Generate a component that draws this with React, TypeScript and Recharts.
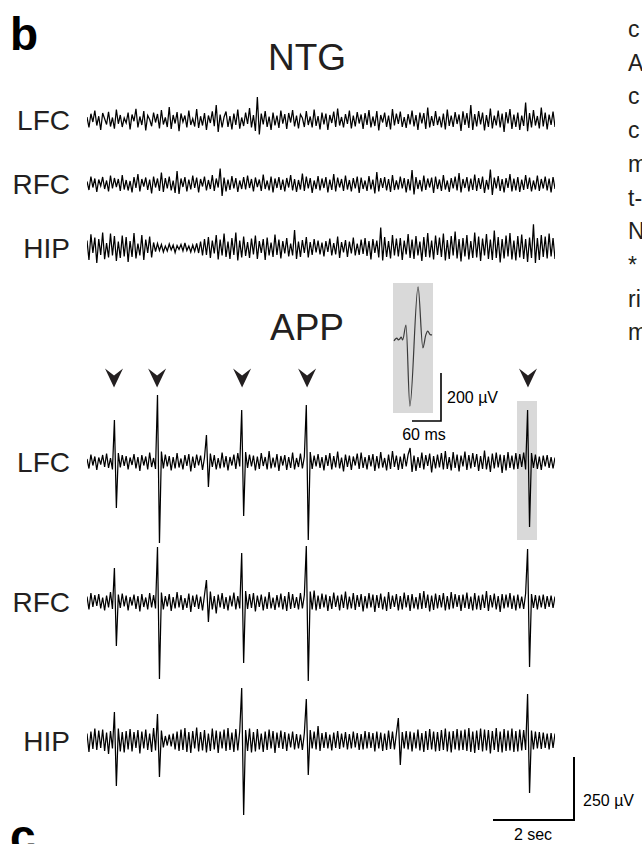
import React from "react";
import { LineChart, Line, XAxis, YAxis, ReferenceArea, ReferenceDot } from "recharts";

// sampling grid of the traces (seconds per sample, 240 samples)
const STEP = 0.05;
const SPAN = 11.95;

// NTG traces, µV
const ntgLfc = [
  12, -30, 25, -8, 38, -22, 15, -40, 28, 5, -18, 33, -26, 10, -35, 42, -15, 20, -28, 8,
  -12, 30, -38, 22, -5, 45, -30, 14, -20, 36, -42, 18, 2, -25, 30, -10, 24, -34, 40, -18,
  10, -28, 52, -36, 20, -14, 32, -45, 26, -8, 18, -30, 38, -20, 6, -26, 44, -32, 15, -22,
  28, -40, 18, -12, 35, -25, 60, -48, 22, -30, 12, 34, -28, 16, -38, 26, -20, 42, -35, 10,
  -24, 30, -16, 48, -30, 20, -44, 92, -58, 26, -18, 36, -28, 14, -40, 30, -22, 18, -32, 38,
  -15, 24, -36, 28, -10, 40, -26, 18, -34, 22, 8, -28, 36, -20, 14, -30, 42, -24, 16, -38,
  30, -18, 26, -40, 20, -12, 34, -28, 46, -22, 12, -30, 24, -16, 38, -34, 18, -26, 32, -14,
  22, -36, 28, -20, 40, -30, 14, -24, 36, -42, 20, -10, 30, -28, 18, -38, 44, -22, 26, -16,
  34, -28, 12, -32, 24, -18, 38, -26, 20, -40, 30, -14, 28, -36, 50, -30, 16, -24, 36, -20,
  14, -30, 26, -38, 42, -24, 18, -28, 32, -16, 22, -44, 35, -20, 28, -32, 60, -40, 24, -26,
  36, -18, 30, -42, 20, -28, 46, -34, 18, -22, 38, -30, 26, -48, 32, -14, 44, -36, 22, -28,
  30, -40, 18, -24, 70, -45, 28, -30, 40, -22, 16, -34, 50, -26, 30, -38, 22, -20, 34, -28,
];
const ntgRfc = [
  10, -24, 30, -14, 22, -32, 18, -8, 28, -20, 14, -30, 34, -18, 24, -12, 20, -28, 36, -22,
  16, -26, 12, -34, 28, -16, 40, -30, 20, -10, 26, -24, 18, -38, 30, -14, 22, -28, 46, -32,
  24, -18, 30, -26, 14, -36, 52, -40, 22, -12, 28, -30, 18, -22, 34, -16, 26, -34, 20, -10,
  30, -26, 16, -20, 36, -28, 22, -14, 62, -48, 26, -30, 18, -24, 32, -18, 24, -32, 14, -20,
  28, -22, 34, -16, 20, -30, 26, -12, 18, -28, 38, -20, 14, -26, 30, -34, 22, -16, 28, -24,
  18, -30, 24, -14, 36, -26, 20, -32, 16, -22, 42, -28, 30, -18, 24, -36, 14, -20, 32, -26,
  22, -16, 28, -34, 18, -24, 40, -30, 26, -14, 20, -28, 34, -22, 16, -30, 24, -18, 30, -36,
  26, -20, 14, -28, 32, -22, 18, -38, 48, -30, 24, -16, 28, -26, 20, -32, 36, -24, 14, -22,
  30, -18, 24, -34, 20, -26, 56, -42, 28, -20, 16, -30, 34, -24, 22, -14, 26, -36, 30, -20,
  18, -28, 36, -22, 14, -32, 24, -18, 30, -26, 44, -34, 20, -16, 28, -30, 22, -24, 38, -28,
  24, -20, 30, -36, 16, -22, 58, -44, 26, -18, 32, -28, 20, -34, 24, -16, 40, -30, 22, -26,
  28, -32, 18, -24, 36, -20, 26, -30, 14, -22, 34, -28, 20, -18, 30, -26, 22, -34, 28, -20,
];
const ntgHip = [
  30, -48, 55, -20, 42, -60, 36, -28, 62, -45, 20, -38, 58, -30, 48, -52, 26, -40, 50, -34,
  44, -56, 28, -36, 60, -42, 18, -30, 52, -48, 34, -20, 46, -38, 22, -14, 18, -10, 14, -16,
  8, -12, 16, -8, 12, -18, 10, -6, 14, -12, 20, -10, 8, -16, 12, -14, 18, -20, 26, -30,
  36, -28, 44, -40, 30, -22, 52, -46, 34, -30, 58, -36, 26, -44, 40, -28, 62, -50, 30, -38,
  46, -32, 24, -40, 38, -26, 50, -44, 28, -20, 36, -48, 42, -30, 22, -36, 54, -28, 34, -42,
  28, -22, 40, -34, 18, -30, 72, -44, 26, -36, 32, -20, 44, -38, 24, -28, 36, -18, 30, -26,
  22, -34, 28, -16, 38, -30, 20, -26, 46, -40, 24, -18, 32, -36, 26, -22, 42, -30, 18, -28,
  34, -24, 40, -32, 28, -46, 36, -20, 30, -38, 82, -50, 44, -36, 28, -42, 52, -30, 38, -34,
  40, -48, 30, -26, 56, -40, 34, -44, 48, -30, 26, -52, 44, -36, 60, -38, 30, -46, 50, -28,
  42, -36, 58, -50, 32, -44, 48, -30, 66, -42, 36, -54, 40, -34, 52, -46, 28, -40, 62, -38,
  46, -52, 38, -30, 56, -44, 34, -48, 70, -40, 44, -58, 36, -42, 50, -34, 60, -46, 30, -50,
  48, -38, 54, -44, 36, -56, 42, -40, 95, -60, 40, -48, 52, -36, 46, -42, 58, -34, 40, -44,
];

// APP traces, µV
const appLfc = [
  12, -26, 30, -14, 22, -32, 18, -10, 28, -20, 34, -24, 16, -30, 168, -184, 36, -22, 28, -16,
  24, -30, 18, -12, 32, -26, 20, -36, 28, -14, 22, -30, 38, -20, 16, -28, 268, -324, 42, -26,
  30, -18, 24, -34, 20, -26, 36, -22, 14, -30, 28, -16, 32, -38, 22, -24, 30, -14, 26, -32,
  18, 108, -100, 34, -20, 28, -30, 16, -26, 38, -22, 24, -34, 20, -14, 30, -28, 36, -18, 208,
  -216, 40, -24, 30, -18, 26, -34, 22, -28, 36, -16, 20, -30, 44, -26, 18, -22, 32, -36, 24,
  -14, 28, -32, 20, -24, 38, -30, 16, -20, 34, -26, 22, 228, -312, 40, -28, 26, -18, 32, -24,
  20, -34, 28, -16, 36, -30, 24, -22, 42, -26, 18, -38, 30, -20, 26, -32, 22, -14, 34, -28,
  38, -24, 20, -30, 28, -18, 32, -36, 24, -26, 40, -22, 16, -34, 30, -28, 44, -20, 26, -32,
  22, -28, 34, -18, 30, 56, -40, 26, -36, 20, -24, 38, -30, 28, -16, 34, -42, 24, -26, 30,
  -22, 36, -30, 44, -28, 20, -34, 40, -24, 30, -38, 26, -18, 42, -32, 28, -26, 36, -20, 32,
  -36, 24, -28, 46, -30, 22, -40, 34, -26, 38, -22, 30, -44, 28, -34, 40, -24, 26, -30, 36,
  -28, 32, -20, 38, -30, 208, -260, 36, -24, 30, -28, 22, -32, 26, -18, 28, -24, 20, -26, 18,
];
const appRfc = [
  22, -30, 36, -20, 28, -16, 32, -26, 18, -34, 26, -22, 40, -28, 136, -176, 30, -24, 34, -18,
  26, -34, 20, -14, 30, -28, 24, -38, 32, -20, 18, -30, 36, -22, 28, -26, 220, -308, 38, -30,
  24, -18, 32, -36, 20, -26, 40, -22, 28, -32, 16, -24, 34, -40, 26, -20, 30, -28, 22, -34,
  28, 88, -80, 42, -30, 24, -46, 30, -22, 36, -28, 20, -34, 26, -18, 38, -30, 24, -26, 196,
  -244, 44, -28, 32, -24, 36, -38, 26, -20, 30, -34, 22, -28, 40, -26, 18, -32, 28, -22, 34,
  -30, 24, -36, 40, -28, 32, -24, 20, -30, 36, -26, 28, 224, -316, 42, -30, 46, -34, 26, -28,
  34, -22, 30, -36, 24, -28, 38, -20, 26, -34, 30, -24, 42, -30, 22, -26, 36, -32, 28, -20,
  32, -38, 24, -26, 36, -22, 30, -40, 28, -24, 34, -30, 22, -36, 40, -28, 26, -20, 32, -34,
  24, -30, 38, -22, 28, -36, 32, -26, 20, -30, 36, -28, 44, -24, 30, -38, 26, -32, 34, -26,
  28, -22, 36, -34, 24, -30, 40, -26, 32, -20, 28, -36, 30, -24, 38, -28, 22, -34, 36, -30,
  26, -32, 30, -24, 44, -36, 28, -22, 34, -30, 24, -40, 32, -26, 30, -22, 36, -28, 26, -34,
  30, -26, 22, -28, 34, 212, -260, 32, -24, 28, -30, 26, -22, 30, -28, 24, -20, 26, -24, 22,
];
const appHip = [
  30, -44, 38, -32, 50, -36, 42, -28, 46, -40, 34, -52, 40, -30, 116, -180, 50, -42, 36, -46,
  40, -34, 48, -42, 36, -28, 44, -50, 38, -30, 46, -36, 30, -44, 52, -38, 108, -144, 42, -26,
  20, -18, 26, -22, 30, -34, 38, -40, 46, -36, 52, -44, 36, -48, 40, -30, 54, -42, 36, -38,
  44, -46, 30, -40, 50, -34, 42, -48, 38, -30, 46, -40, 52, -36, 34, -44, 48, -38, 40, 212,
  -296, 44, -40, 50, -46, 36, -42, 48, -34, 30, -44, 38, -36, 46, -30, 40, -48, 34, -28, 42,
  -32, 36, -40, 30, -26, 38, -34, 28, -30, 26, -36, 32, 168, -136, 44, -30, 38, -34, 60, -40,
  32, -28, 36, -30, 26, -38, 34, -28, 40, -32, 30, -26, 36, -34, 28, -30, 38, -26, 32, -36,
  28, -34, 40, -30, 36, -28, 32, -42, 38, -30, 34, -40, 30, -36, 42, -32, 38, -34, 30, 92,
  -96, 36, -30, 40, -34, 38, -42, 34, -30, 46, -38, 32, -44, 40, -36, 48, -34, 38, -42, 36,
  -40, 44, -36, 50, -42, 38, -46, 40, -34, 48, -38, 42, -36, 46, -40, 52, -44, 38, -48, 42,
  -36, 50, -42, 46, -38, 44, -50, 40, -36, 52, -44, 38, -46, 48, -40, 42, -38, 50, -44, 40,
  -42, 46, -38, 44, -36, 188, -208, 42, -34, 38, -30, 36, -32, 34, -28, 30, -34, 32, -28, 30,
];

// arrowheads over the LFC spikes (s)
const arrowTimes = [0.69, 1.79, 3.96, 5.62, 11.26];

// averaged spike shown in the inset
const insetMs = [2, 5, 8, 11, 14, 17, 20, 27, 35, 52, 62, 68, 72, 77, 81];
const insetUv = [-4, 4, 8, 0, 4, 12, 0, 62, -275, 221, -33, 20, 37, 22, 21];

const rightText = ["c", "A", "c", "c", "m", "t-", "N", "*", "ri", "m"];

const FONT = "'Liberation Sans', Arial, sans-serif";
const INK = "#231f20";
const BOX = "#d9d9d9";

const toSeries = (values: number[]) => values.map((v, i) => ({ t: +(i * STEP).toFixed(2), v }));
const insetData = insetMs.map((t, i) => ({ t, v: insetUv[i] }));

const Arrow = (props: any) => {
  const { cx, cy } = props;
  return (
    <path
      d={`M${cx - 9},${cy - 9.5} L${cx},${cy - 2.5} L${cx + 9},${cy - 9.5} L${cx},${cy + 9.5} Z`}
      fill={INK}
    />
  );
};

function Trace({ values, center, children }: { values: number[]; center: number; children?: React.ReactNode }) {
  return (
    <div style={{ position: "absolute", left: 87, top: center - 100 }}>
      <LineChart width={468} height={200} data={toSeries(values)} margin={{ top: 0, right: 0, bottom: 0, left: 0 }}>
        <XAxis dataKey="t" type="number" domain={[0, SPAN]} hide />
        <YAxis type="number" domain={[-400, 400]} hide allowDataOverflow />
        {children}
        <Line type="linear" dataKey="v" stroke="#000" strokeWidth={1.25} dot={false} isAnimationActive={false} />
      </LineChart>
    </div>
  );
}

export default function App() {
  const labels = [
    { text: "LFC", y: 120 },
    { text: "RFC", y: 184 },
    { text: "HIP", y: 248 },
    { text: "LFC", y: 462 },
    { text: "RFC", y: 602 },
    { text: "HIP", y: 741 },
  ];
  return (
    <div style={{ position: "absolute", left: 0, top: 0, width: 642, height: 844, overflow: "hidden", background: "#fff" }}>
      <Trace values={ntgLfc} center={120} />
      <Trace values={ntgRfc} center={184} />
      <Trace values={ntgHip} center={248} />

      <Trace values={appLfc} center={462}>
        <ReferenceArea x1={10.98} x2={11.49} y1={-312} y2={244} fill={BOX} fillOpacity={1} stroke="none" />
        {arrowTimes.map((t) => (
          <ReferenceDot key={t} x={t} y={336} r={9} shape={Arrow} ifOverflow="visible" />
        ))}
      </Trace>
      <Trace values={appRfc} center={602} />
      <Trace values={appHip} center={741} />

      <div style={{ position: "absolute", left: 393, top: 283, width: 40, height: 130, background: BOX }}>
        <LineChart width={40} height={130} data={insetData} margin={{ top: 0, right: 0, bottom: 0, left: 0 }}>
          <XAxis dataKey="t" type="number" domain={[0, 83]} hide />
          <YAxis type="number" domain={[-304, 237]} hide />
          <Line type="monotone" dataKey="v" stroke="#3a3a3a" strokeWidth={1.2} dot={false} isAnimationActive={false} />
        </LineChart>
      </div>

      <svg width={642} height={844} style={{ position: "absolute", left: 0, top: 0, pointerEvents: "none" }}>
        <text x={10} y={50} fontFamily={FONT} fontWeight="bold" fontSize={46} fill="#000">b</text>
        <text x={10} y={852} fontFamily={FONT} fontWeight="bold" fontSize={46} fill="#000">c</text>
        <text x={307} y={70} textAnchor="middle" fontFamily={FONT} fontSize={37} fill={INK}>NTG</text>
        <text x={307} y={340} textAnchor="middle" fontFamily={FONT} fontSize={37} fill={INK}>APP</text>
        {labels.map((l, i) => (
          <text key={i} x={70} y={l.y + 10} textAnchor="end" fontFamily={FONT} fontSize={28} fill={INK}>{l.text}</text>
        ))}
        {rightText.map((s, i) => (
          <text key={i} x={628} y={37 + i * 33.7} fontFamily={FONT} fontSize={23} fill={INK}>{s}</text>
        ))}

        {/* inset scale bar */}
        <path d="M412,421 L441,421 L441,373" fill="none" stroke="#000" strokeWidth={1.6} />
        <text x={447} y={403} fontFamily={FONT} fontSize={16} fill="#000">200 µV</text>
        <text x={424} y={440} textAnchor="middle" fontFamily={FONT} fontSize={16} fill="#000">60 ms</text>

        {/* trace scale bar */}
        <path d="M493,820 L574,820 L574,757" fill="none" stroke="#000" strokeWidth={2} />
        <text x={583} y={806} fontFamily={FONT} fontSize={16} fill="#000">250 µV</text>
        <text x={533} y={840} textAnchor="middle" fontFamily={FONT} fontSize={16} fill="#000">2 sec</text>
      </svg>
    </div>
  );
}
